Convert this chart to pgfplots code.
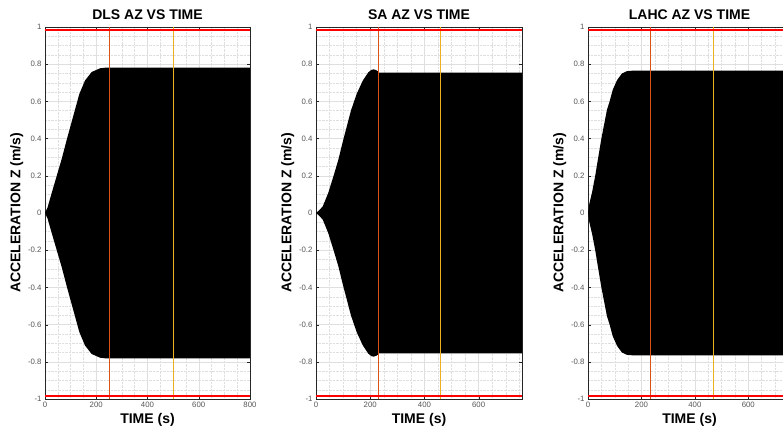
\documentclass[border=0pt]{standalone}
\usepackage{fontspec}
\setmainfont{Liberation Sans}
\usepackage{pgfplots}
\pgfplotsset{compat=1.18}
\definecolor{mlorange}{HTML}{D95319}
\definecolor{mlyellow}{HTML}{EDB120}
\definecolor{axgray}{HTML}{262626}
\definecolor{lblgray}{HTML}{555555}

% envelope of the acceleration signal (upper half), filled symmetric
\pgfplotsset{
  az panel/.style={
    scale only axis, height=372pt, anchor=south west,
    ymin=-1, ymax=1, ytick={-1,-0.8,...,1},
    xmin=0, xtick distance=200,
    minor x tick num=3, minor y tick num=3,
    grid=both, major grid style={gray!25}, minor grid style={gray!25, densely dotted},
    minor tick length=0pt, major tick length=3pt,
    axis line style={axgray}, tick style={axgray},
    /pgf/number format/assume math mode=true,
    tick label style={font=\fontsize{7.8}{9}\selectfont, text=lblgray},
    title style={font=\fontsize{14}{16}\selectfont\bfseries, yshift=-2pt},
    label style={font=\fontsize{14}{16}\selectfont\bfseries},
    xlabel={TIME (s)}, ylabel={ACCELERATION Z (m/s)},
    xlabel style={yshift=2pt}, ylabel style={yshift=-2pt},
  },
  redline/.style={red, line width=1.6pt},
}

\begin{document}
\begin{tikzpicture}
% ---- DLS ----
\begin{axis}[az panel, at={(45pt,40pt)}, width=205pt, xmax=800,
  title={DLS AZ VS TIME}]
\addplot[fill=black, draw=none] coordinates {
 (0,0) (10,0.03) (26,0.107) (45,0.196) (65,0.290) (87,0.405) (100,0.470)
 (117,0.555) (126,0.6) (134,0.64) (156,0.712) (182,0.758) (215,0.778)
 (240,0.782) (800,0.782)
 (800,-0.782) (240,-0.782) (215,-0.778) (182,-0.758) (156,-0.712) (134,-0.64)
 (126,-0.6) (117,-0.555) (100,-0.470) (87,-0.405) (65,-0.290) (45,-0.196)
 (26,-0.107) (10,-0.03) (0,0)};
\addplot[mlorange, line width=0.6pt] coordinates {(250,-1) (250,1)};
\addplot[mlyellow, line width=0.6pt] coordinates {(500,-1) (500,1)};
\addplot[redline] coordinates {(0,0.985) (800,0.985)};
\addplot[redline] coordinates {(0,-0.985) (800,-0.985)};
\end{axis}
% ---- SA ----
\begin{axis}[az panel, at={(316pt,40pt)}, width=206pt, xmax=760,
  title={SA AZ VS TIME}]
\addplot[fill=black, draw=none] coordinates {
 (0,0) (12,0.015) (25,0.036) (45,0.107) (64,0.196) (82,0.284) (101,0.396)
 (113,0.462) (129,0.551) (150,0.64) (172,0.71) (193,0.756) (205,0.77)
 (213,0.772) (222,0.768) (228,0.762) (230,0.755) (760,0.755)
 (760,-0.755) (230,-0.755) (228,-0.762) (222,-0.768) (213,-0.772)
 (205,-0.77) (193,-0.756) (172,-0.71) (150,-0.64) (129,-0.551) (113,-0.462)
 (101,-0.396) (82,-0.284) (64,-0.196) (45,-0.107) (25,-0.036) (12,-0.015) (0,0)};
\addplot[mlorange, line width=0.6pt] coordinates {(230,-1) (230,1)};
\addplot[mlyellow, line width=0.6pt] coordinates {(460,-1) (460,1)};
\addplot[redline] coordinates {(0,0.985) (760,0.985)};
\addplot[redline] coordinates {(0,-0.985) (760,-0.985)};
\end{axis}
% ---- LAHC ----
\begin{axis}[az panel, at={(588pt,40pt)}, width=203pt, xmax=760,
  title={LAHC AZ VS TIME}]
\addplot[fill=black, draw=none] coordinates {
 (0,0) (5,0.05) (15,0.11) (27,0.2) (37,0.288) (50,0.4) (59,0.466) (71,0.555)
 (81,0.6) (92,0.66) (109,0.715) (127,0.75) (145,0.762) (165,0.765) (760,0.765)
 (760,-0.765) (165,-0.765) (145,-0.762) (127,-0.75) (109,-0.715) (92,-0.66)
 (81,-0.6) (71,-0.555) (59,-0.466) (50,-0.4) (37,-0.288) (27,-0.2) (15,-0.11)
 (5,-0.05) (0,0)};
\addplot[mlorange, line width=0.6pt] coordinates {(235,-1) (235,1)};
\addplot[mlyellow, line width=0.6pt] coordinates {(470,-1) (470,1)};
\addplot[redline] coordinates {(0,0.985) (760,0.985)};
\addplot[redline] coordinates {(0,-0.985) (760,-0.985)};
\end{axis}
\pgfresetboundingbox
\useasboundingbox (0,0) rectangle (783pt,439pt);
\end{tikzpicture}
\end{document}
